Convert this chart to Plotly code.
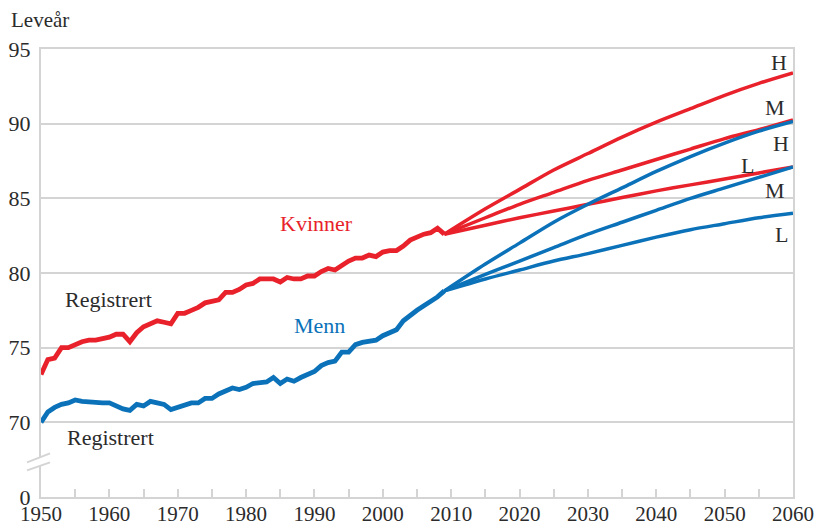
import plotly.graph_objects as go

# ---------------- data ----------------
hist_years = list(range(1950, 2010))
women_reg = [73.2, 74.2, 74.3, 75.0, 75.0, 75.2, 75.4, 75.5, 75.5, 75.6,
             75.7, 75.9, 75.9, 75.4, 76.0, 76.4, 76.6, 76.8, 76.7, 76.6,
             77.3, 77.3, 77.5, 77.7, 78.0, 78.1, 78.2, 78.7, 78.7, 78.9,
             79.2, 79.3, 79.6, 79.6, 79.6, 79.4, 79.7, 79.6, 79.6, 79.8,
             79.8, 80.1, 80.3, 80.2, 80.5, 80.8, 81.0, 81.0, 81.2, 81.1,
             81.4, 81.5, 81.5, 81.8, 82.2, 82.4, 82.6, 82.7, 83.0, 82.6]
men_reg = [70.0, 70.7, 71.0, 71.2, 71.3, 71.5, 71.4, 71.35, 71.35, 71.3,
           71.3, 71.1, 70.9, 70.8, 71.2, 71.1, 71.4, 71.3, 71.2, 70.85,
           71.0, 71.1, 71.3, 71.3, 71.6, 71.6, 71.9, 72.1, 72.3, 72.2,
           72.35, 72.6, 72.65, 72.7, 73.0, 72.6, 72.9, 72.75, 73.0, 73.2,
           73.4, 73.8, 74.0, 74.1, 74.7, 74.7, 75.2, 75.35, 75.4, 75.5,
           75.8, 76.0, 76.2, 76.8, 77.2, 77.5, 77.8, 78.1, 78.4, 78.8]

proj_years = [2009, 2015, 2020, 2025, 2030, 2035, 2040, 2045, 2050, 2055, 2060]
women_H = [82.6, 84.3, 85.6, 86.9, 88.0, 89.1, 90.1, 91.0, 91.9, 92.7, 93.4]
women_M = [82.6, 83.7, 84.6, 85.4, 86.2, 86.9, 87.6, 88.3, 89.0, 89.6, 90.25]
women_L = [82.6, 83.2, 83.7, 84.15, 84.6, 85.05, 85.5, 85.9, 86.3, 86.7, 87.1]
men_H = [78.8, 80.6, 82.0, 83.4, 84.6, 85.7, 86.8, 87.8, 88.7, 89.5, 90.15]
men_M = [78.8, 79.9, 80.8, 81.7, 82.6, 83.4, 84.2, 85.0, 85.7, 86.4, 87.1]
men_L = [78.8, 79.6, 80.2, 80.8, 81.3, 81.85, 82.4, 82.9, 83.3, 83.7, 84.0]

y_tickvals = [65, 70, 75, 80, 85, 90, 95]
y_ticktext = ["0", "70", "75", "80", "85", "90", "95"]
x_tickvals = list(range(1950, 2061, 10))

RED = "#e8212b"
BLUE = "#0b72b9"
GRID = "#d4d4d4"
TXT = "#2b2b2b"
FONT = "Liberation Serif, DejaVu Serif, serif"
LBL = 22

fig = go.Figure()

for ys in (women_H, women_M, women_L):
    fig.add_trace(go.Scatter(x=proj_years, y=ys, mode="lines",
                             line=dict(color=RED, width=3.5, shape="spline", smoothing=0.8),
                             showlegend=False, hoverinfo="skip"))
for ys in (men_H, men_M, men_L):
    fig.add_trace(go.Scatter(x=proj_years, y=ys, mode="lines",
                             line=dict(color=BLUE, width=3.5, shape="spline", smoothing=0.8),
                             showlegend=False, hoverinfo="skip"))

fig.add_trace(go.Scatter(x=hist_years, y=women_reg, mode="lines",
                         line=dict(color=RED, width=4.8), showlegend=False))
fig.add_trace(go.Scatter(x=hist_years, y=men_reg, mode="lines",
                         line=dict(color=BLUE, width=4.8), showlegend=False))

annotations = [
    dict(x=-0.043, y=1.065, xref="paper", yref="paper", text="Leveår",
         showarrow=False, xanchor="left", yanchor="middle",
         font=dict(size=21, color=TXT, family=FONT)),
    dict(x=1959.9, y=78.2, text="Registrert", showarrow=False,
         font=dict(size=LBL, color=TXT, family=FONT)),
    dict(x=1960.1, y=69.0, text="Registrert", showarrow=False,
         font=dict(size=LBL, color=TXT, family=FONT)),
    dict(x=1990.3, y=83.3, text="Kvinner", showarrow=False,
         font=dict(size=LBL, color=RED, family=FONT)),
    dict(x=1990.8, y=76.5, text="Menn", showarrow=False,
         font=dict(size=LBL, color=BLUE, family=FONT)),
]
for lbl, xx, yy in [("H", 2057.9, 94.1), ("M", 2057.3, 91.1), ("H", 2058.2, 88.7),
                    ("L", 2053.4, 87.2), ("M", 2057.3, 85.5), ("L", 2058.3, 82.6)]:
    annotations.append(dict(x=xx, y=yy, text=lbl, showarrow=False,
                            font=dict(size=LBL, color=TXT, family=FONT)))

shapes = [
    dict(type="path", xref="paper", yref="y",
         path="M -0.0186 66.78 L 0.012 67.32 L 0.012 67.92 L -0.0186 67.32 Z",
         fillcolor="white", line=dict(width=0), layer="above"),
    dict(type="line", xref="paper", yref="y", x0=-0.0186, y0=67.32, x1=0.012, y1=67.92,
         line=dict(color=GRID, width=2), layer="above"),
    dict(type="line", xref="paper", yref="y", x0=-0.0186, y0=66.78, x1=0.012, y1=67.32,
         line=dict(color=GRID, width=2), layer="above"),
]

fig.update_layout(
    width=816, height=527,
    margin=dict(l=41, r=23, t=49, b=30, autoexpand=False),
    paper_bgcolor="white", plot_bgcolor="white",
    font=dict(family=FONT, size=20, color=TXT),
    annotations=annotations,
    shapes=shapes,
    xaxis=dict(range=[1950, 2060], tickvals=x_tickvals, automargin=False,
               showgrid=False, zeroline=False,
               showline=True, linecolor=GRID, linewidth=2, mirror=True,
               ticks="inside", ticklen=8, tickcolor=GRID, tickwidth=2,
               minor=dict(ticks="inside", ticklen=8, tickcolor=GRID, tickwidth=2,
                          dtick=5, tick0=1955),
               ticklabelstandoff=-3,
               tickfont=dict(size=21, color=TXT, family=FONT)),
    yaxis=dict(range=[65, 95], tickvals=y_tickvals, ticktext=y_ticktext, automargin=False,
               showgrid=True, gridcolor=GRID, gridwidth=2, zeroline=False,
               showline=True, linecolor=GRID, linewidth=2, mirror=True,
               ticks="", ticklabelstandoff=4,
               tickfont=dict(size=22, color=TXT, family=FONT)),
)

fig.write_html("out.html", config={"displayModeBar": False},
               post_script="document.body.style.margin='0';document.body.style.padding='0';")
